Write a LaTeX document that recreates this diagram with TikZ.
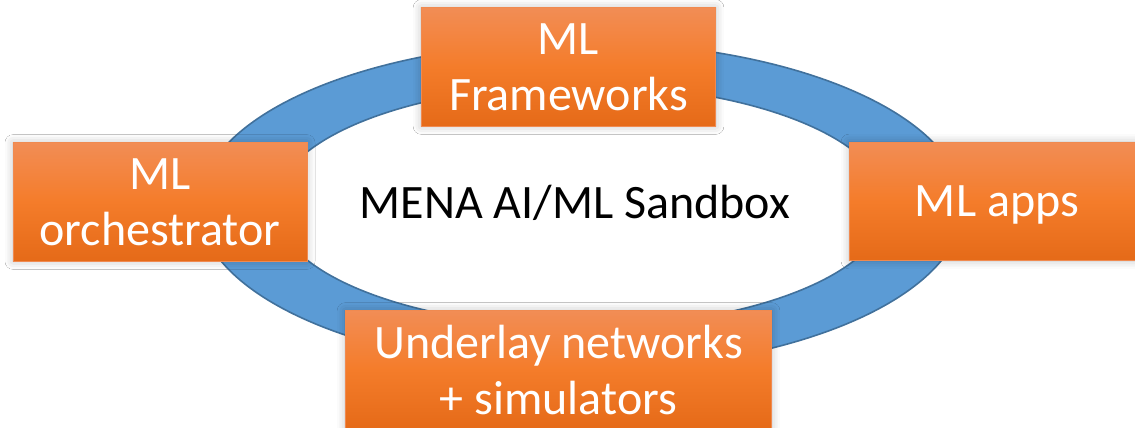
\documentclass[tikz,border=0pt]{standalone}
\usepackage{fontspec}
\setmainfont{Carlito}
\usepackage{tikz}
\usetikzlibrary{shadows.blur}
\definecolor{ringblue}{HTML}{5B9BD5}
\definecolor{ringedge}{HTML}{41719C}
\definecolor{boxtop}{HTML}{F28D55}
\definecolor{boxmid}{HTML}{F47C2A}
\definecolor{boxbot}{HTML}{E56A18}
\definecolor{boxedge}{HTML}{F08A50}

\begin{document}
\begin{tikzpicture}[
  x=0.75pt, y=-0.75pt,
  block/.style={rectangle, draw=boxedge, line width=0.6pt, top color=boxtop, bottom color=boxbot, middle color=boxmid, minimum height=89pt, inner sep=0pt, align=center, text=white, font=\fontsize{36}{42}\selectfont, blur shadow={shadow xshift=0pt, shadow yshift=0pt, shadow blur radius=6pt, shadow opacity=25}},
  ring/.style={draw=ringedge, line width=1.2pt, fill=ringblue, even odd rule},
]
  \clip (0,0) rectangle (1135,428);
  \fill[white] (0,0) rectangle (1135,428);

  % Ring
  \draw[ring] (581,206) ellipse [x radius=382, y radius=164]
              (581,206) ellipse [x radius=306, y radius=121];
  \node[font=\fontsize{36}{42}\selectfont, anchor=base] (sandbox) at (575,218) {MENA AI/ML Sandbox};

  % Blocks
  \node[block, minimum width=221pt] (fw) at (568.5,67) {ML\\Frameworks};
  \node[block, minimum width=220.5pt] (orch) at (160,202) {ML\\orchestrator};
  \node[block, minimum width=222pt, text depth=0pt] (apps) at (997,201.5) {ML apps};
  \node[block, minimum width=320pt] (under) at (558.5,370) {Underlay networks\\+ simulators};
\end{tikzpicture}
\end{document}
